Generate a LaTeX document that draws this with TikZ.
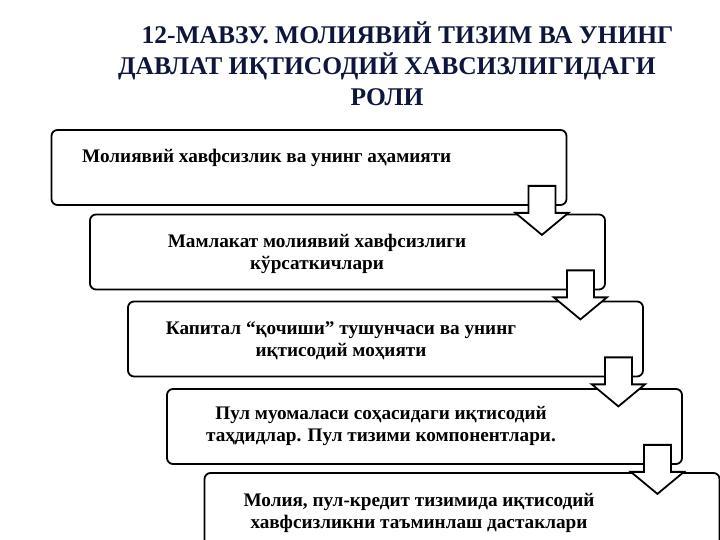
\documentclass[tikz,border=0pt]{standalone}
\usepackage{fontspec}
\setmainfont{Liberation Serif}
\usetikzlibrary{calc}
\definecolor{titleblue}{RGB}{14,22,62}
\tikzset{
    box/.style={draw=black, line width=1.8pt, rounded corners=6pt, fill=white,
        minimum width=515pt, minimum height=75pt, inner sep=0pt},
    txt/.style={font=\fontsize{19.2}{21.5}\selectfont\bfseries, align=center, inner sep=0pt},
    blockarr/.style={draw=black, line width=1.8pt, fill=white, line join=miter}
}
\begin{document}
\begin{tikzpicture}[x=1pt, y=1pt]
    % 1. Page frame
    \useasboundingbox (0,0) rectangle (720,540);
    \clip (0,0) rectangle (720,540);

    % 2. Title
    \node[txt, font=\fontsize{25.5}{31}\selectfont\bfseries, text=titleblue] (title) at (387,476)
        {\hspace*{41pt}12-МАВЗУ. МОЛИЯВИЙ ТИЗИМ ВА УНИНГ\\
         ДАВЛАТ ИҚТИСОДИЙ ХАВСИЗЛИГИДАГИ\\
         РОЛИ};

    % 3. Boxes, stepping down to the right
    \node[box] (b1) at (309,372.5) {};
    \node[box] (b2) at (347.5,288) {};
    \node[box] (b3) at (385.5,201) {};
    \node[box] (b4) at (424.5,113.5) {};
    \node[box] (b5) at (462,29.5) {};

    % 4. Texts
    \node[txt, anchor=base west] (t1) at (82,377) {Молиявий хавфсизлик ва унинг аҳамияти};
    \node[txt] (t2) at (317,286) {Мамлакат молиявий хавфсизлиги\\кўрсаткичлари};
    \node[txt] (t3) at (341,199) {Капитал “қочиши” тушунчаси ва унинг\\иқтисодий моҳияти};
    \node[txt] (t4) at (381,114) {Пул муомаласи соҳасидаги иқтисодий\\таҳдидлар. Пул тизими компонентлари.};
    \node[txt] (t5) at (419,27) {Молия, пул-кредит тизимида иқтисодий\\хавфсизликни таъминлаш дастаклари};

    % 5. Block arrows from each box to the next
    \foreach \i in {1,...,4}
        \draw[blockarr] ($(b\i.south east)+(-39,20)$) -- ++(27,0) -- ++(0,-27) -- ++(13,0)
            -- ++(-26.5,-22) -- ++(-26.5,22) -- ++(13,0) -- cycle;
\end{tikzpicture}
\end{document}
